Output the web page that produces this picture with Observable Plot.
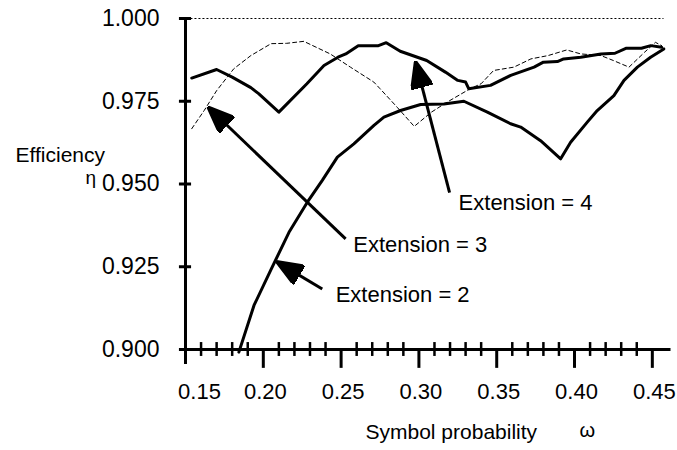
<!DOCTYPE html>
<html>
<head>
<meta charset="utf-8">
<script src="https://cdn.jsdelivr.net/npm/d3@7"></script>
<script src="https://cdn.jsdelivr.net/npm/@observablehq/plot@0.6"></script>
<style>
  html, body { margin: 0; padding: 0; background: #fff; }
  svg text { font-family: "Liberation Sans", Arial, Helvetica, sans-serif; fill: #000; }
  g[aria-label="y-tick-labels"] text { letter-spacing: 2px; }
  g[aria-label="x-tick-labels"] text { letter-spacing: 1px; }
  g[aria-label="ext-labels"] text { letter-spacing: 1.3px; }
  g[aria-label="y-title"] text { letter-spacing: 1.8px; }
  g[aria-label="x-title"] text { letter-spacing: 1px; }
  g[aria-label="greek"] text { font-family: "Liberation Serif", "DejaVu Serif", serif; }
</style>
</head>
<body>
<div id="chart"></div>
<script>
// ---- Data ----
// Extension = 2 (solid, lower curve)
const ext2Omega = [0.1843, 0.194, 0.2047, 0.2165, 0.2283, 0.2379, 0.2476, 0.2582, 0.2711, 0.2775, 0.2882, 0.3011, 0.3161, 0.3289, 0.3440, 0.3589, 0.3654, 0.3782, 0.3911, 0.3975, 0.4082, 0.4146, 0.4253, 0.4318, 0.4404, 0.4489, 0.4574];
const ext2Eta   = [0.8992, 0.9133, 0.9239, 0.9354, 0.9445, 0.9511, 0.9581, 0.9621, 0.9677, 0.9702, 0.9722, 0.9740, 0.9742, 0.9750, 0.9717, 0.9682, 0.9672, 0.9631, 0.9576, 0.9626, 0.9687, 0.9722, 0.9767, 0.9813, 0.9853, 0.9883, 0.9908];

// Extension = 3 (dashed curve)
const ext3Omega = [0.154, 0.162, 0.170, 0.181, 0.192, 0.205, 0.215, 0.226, 0.243, 0.256, 0.271, 0.275, 0.286, 0.297, 0.308, 0.318, 0.333, 0.340, 0.348, 0.361, 0.372, 0.383, 0.395, 0.404, 0.417, 0.425, 0.435, 0.445, 0.452, 0.456];
const ext3Eta   = [0.9667, 0.9722, 0.9782, 0.9848, 0.9888, 0.9924, 0.9925, 0.9931, 0.9893, 0.9853, 0.9808, 0.9788, 0.9732, 0.9674, 0.9717, 0.9747, 0.9788, 0.9803, 0.9843, 0.9853, 0.9878, 0.9888, 0.9905, 0.9893, 0.9888, 0.9873, 0.9853, 0.9898, 0.9928, 0.9918];

// Extension = 4 (solid, upper curve)
const ext4Omega = [0.154, 0.170, 0.180, 0.192, 0.197, 0.210, 0.228, 0.239, 0.248, 0.253, 0.261, 0.274, 0.279, 0.288, 0.305, 0.317, 0.325, 0.330, 0.332, 0.346, 0.359, 0.374, 0.380, 0.389, 0.393, 0.404, 0.417, 0.426, 0.433, 0.443, 0.449, 0.456];
const ext4Eta   = [0.9820, 0.9846, 0.9823, 0.9791, 0.9773, 0.9717, 0.9803, 0.9858, 0.9883, 0.9893, 0.9918, 0.9918, 0.9927, 0.9901, 0.9873, 0.9838, 0.9813, 0.9808, 0.9788, 0.9798, 0.9828, 0.9853, 0.9868, 0.9870, 0.9878, 0.9883, 0.9893, 0.9895, 0.9910, 0.9910, 0.9918, 0.9913];

// Axis ticks and labels
const xMajorTicks = [0.20, 0.25, 0.30, 0.35, 0.40, 0.45];
const xMinorTicks = [0.16, 0.17, 0.18, 0.19, 0.21, 0.22, 0.23, 0.24, 0.26, 0.27, 0.28, 0.29, 0.31, 0.32, 0.33, 0.34, 0.36, 0.37, 0.38, 0.39, 0.41, 0.42, 0.43, 0.44];
const xTickLabels = ["0.15", "0.20", "0.25", "0.30", "0.35", "0.40", "0.45"];
const yTicks = [0.900, 0.925, 0.950, 0.975, 1.000];
const yTickLabels = ["0.900", "0.925", "0.950", "0.975", "1.000"];

// Annotations (labels and arrows, in data units)
const annotationText  = ["Extension = 4", "Extension = 3", "Extension = 2"];
const annotationOmega = [0.3255, 0.2578, 0.2465];
const annotationEta   = [0.9443, 0.9315, 0.9164];
const arrowFromOmega  = [0.3197, 0.2529, 0.2379];
const arrowFromEta    = [0.9474, 0.9334, 0.9183];
const arrowToOmega    = [0.2979, 0.1648, 0.2090];
const arrowToEta      = [0.9868, 0.9731, 0.9264];

// ---- Build tables ----
const toRows = (xs, ys) => xs.map((x, i) => ({x, y: ys[i]}));
const ext2 = toRows(ext2Omega, ext2Eta);
const ext3 = toRows(ext3Omega, ext3Eta);
const ext4 = toRows(ext4Omega, ext4Eta);
const xLabelRows = xTickLabels.map(t => ({x: +t, t}));
const yLabelRows = yTickLabels.map((t, i) => ({y: yTicks[i], t}));
const annots = annotationText.map((t, i) => ({t, x: annotationOmega[i], y: annotationEta[i]}));
const arrows = annotationText.map((t, i) => ({x1: arrowFromOmega[i], y1: arrowFromEta[i], x2: arrowToOmega[i], y2: arrowToEta[i]}));

function triangleHead(color) {
  const m = d3.create("svg:marker")
    .attr("viewBox", "-26 -11 27 22")
    .attr("markerUnits", "userSpaceOnUse")
    .attr("markerWidth", 27)
    .attr("markerHeight", 22)
    .attr("refX", 0)
    .attr("refY", 0)
    .attr("orient", "auto");
  m.append("path").attr("d", "M1,0L-25,-10.5L-25,10.5Z").attr("fill", color || "black");
  return m.node();
}

const chart = Plot.plot({
  width: 677,
  height: 450,
  marginLeft: 185,
  marginRight: 6.5,
  marginTop: 18,
  marginBottom: 101,
  x: {domain: [0.15, 0.462], axis: null},
  y: {domain: [0.9, 1.0], axis: null},
  style: {background: "white", overflow: "visible", fontFamily: "Liberation Sans, Arial, sans-serif", color: "black"},
  marks: [
    // top dotted reference line at 1.000
    Plot.ruleY([1.0], {x1: 0.1535, x2: 0.4575, stroke: "black", strokeWidth: 1, strokeDasharray: "2,2"}),
    // curves
    Plot.line(ext3, {x: "x", y: "y", stroke: "black", strokeWidth: 1, strokeDasharray: "4,3"}),
    Plot.line(ext4, {x: "x", y: "y", stroke: "black", strokeWidth: 3, strokeLinejoin: "round"}),
    Plot.line(ext2, {x: "x", y: "y", stroke: "black", strokeWidth: 3, strokeLinejoin: "round"}),
    // axes lines
    Plot.ruleX([0.15], {y1: 0.8955, y2: 1.0, stroke: "black", strokeWidth: 3}),
    Plot.ruleY([0.9], {x1: 0.15, x2: 0.462, stroke: "black", strokeWidth: 3}),
    // y ticks (crossing)
    Plot.ruleY(yTicks, {x1: 0.1461, x2: 0.1539, stroke: "black", strokeWidth: 3}),
    // x minor ticks (crossing) and major ticks (below)
    Plot.ruleX(xMinorTicks, {y1: 0.8979, y2: 0.9021, stroke: "black", strokeWidth: 2.5}),
    Plot.ruleX(xMajorTicks, {y1: 0.8943, y2: 0.9, stroke: "black", strokeWidth: 3}),
    // tick labels
    Plot.text(yLabelRows, {x: 0.15, y: "y", text: "t", textAnchor: "end", dx: -26, fontSize: 23, ariaLabel: "y-tick-labels"}),
    Plot.text(xLabelRows.slice(0, 1), {x: "x", y: 0.9, text: "t", dy: 42, dx: 14, fontSize: 22, ariaLabel: "x-tick-labels"}),
    Plot.text(xLabelRows.slice(1), {x: "x", y: 0.9, text: "t", dy: 42, dx: 2, fontSize: 22, ariaLabel: "x-tick-labels"}),
    // axis titles
    Plot.text(["Efficiency"], {frameAnchor: "top-left", text: d => d, textAnchor: "start", dx: -170, dy: 129, fontSize: 21, ariaLabel: "y-title"}),
    Plot.text(["η"], {frameAnchor: "top-left", text: d => d, textAnchor: "start", dx: -100, dy: 152, fontSize: 19, ariaLabel: "greek"}),
    Plot.text(["Symbol probability"], {frameAnchor: "bottom-left", text: d => d, textAnchor: "start", dx: 180, dy: 89, fontSize: 21, ariaLabel: "x-title"}),
    Plot.text(["ω"], {frameAnchor: "bottom-left", text: d => d, textAnchor: "start", dx: 394, dy: 87.5, fontSize: 20, ariaLabel: "greek"}),
    // annotation arrows and labels
    Plot.link(arrows, {x1: "x1", y1: "y1", x2: "x2", y2: "y2", stroke: "black", strokeWidth: 3, markerEnd: triangleHead}),
    Plot.text(annots, {x: "x", y: "y", text: "t", textAnchor: "start", fontSize: 22, ariaLabel: "ext-labels"})
  ]
});

document.getElementById("chart").appendChild(chart);
</script>
</body>
</html>
